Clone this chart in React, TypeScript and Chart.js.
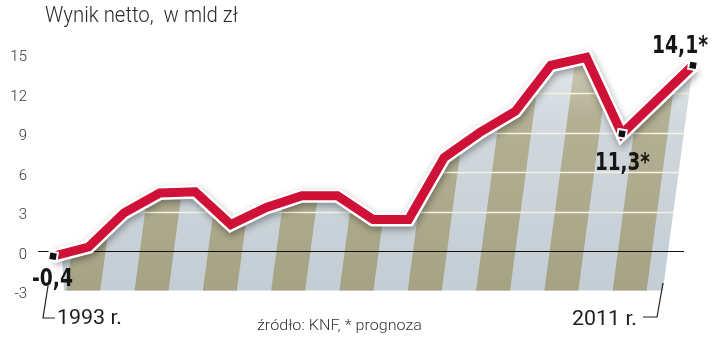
import React, { useEffect, useRef } from 'react';
import { Chart, registerables } from 'chart.js';

Chart.register(...registerables);

const years = ['1993','1994','1995','1996','1997','1998','1999','2000','2001','2002','2003','2004','2005','2006','2007','2008','2009','2010','2011'];
const netProfit = [-0.4, 0.3, 2.9, 4.4, 4.5, 2.0, 3.3, 4.2, 4.2, 2.4, 2.4, 7.1, 9.0, 10.6, 14.1, 14.7, 8.9, 11.5, 14.1];
const yTickValues = [15, 12, 9, 6, 3, 0, -3];
const yTickLabels = ['15', '12', '9', '6', '3', '0', '-3'];
const gridValues = [3, 6, 9, 12];
const markedIndices = [0, 16, 18];
const markedLabels = ['-0,4', '11,3*', '14,1*'];
const titleText = 'Wynik netto,  w mld zł';
const sourceText = 'źródło: KNF, * prognoza';
const firstYearLabel = '1993 r.';
const lastYearLabel = '2011 r.';

const Y_MIN = -3;
const Y_MAX = 15;
const SLANT = 0.134;
const BOLD_FONT = '"DejaVu Sans Condensed", "Liberation Sans Narrow", "DejaVu Sans", sans-serif';
const LIGHT_FONT = 'Roboto, "Liberation Sans", sans-serif';

function fitText(ctx: CanvasRenderingContext2D, text: string, x: number, y: number, width: number, font: string, color: string, align: 'left' | 'center' | 'right' = 'left') {
  ctx.save();
  ctx.font = font;
  ctx.fillStyle = color;
  ctx.textBaseline = 'alphabetic';
  ctx.textAlign = 'left';
  const m = ctx.measureText(text).width;
  const s = width / m;
  const left = align === 'left' ? x : align === 'center' ? x - width / 2 : x - width;
  ctx.translate(left, y);
  ctx.scale(s, 1);
  ctx.fillText(text, 0, 0);
  ctx.restore();
}

const decorPlugin = {
  id: 'decor',
  beforeDatasetsDraw(chart: any) {
    const { ctx, scales } = chart;
    const x = scales.x;
    const y = scales.y;
    const yB = y.getPixelForValue(Y_MIN);
    const pts = netProfit.map((v, i) => ({ x: x.getPixelForValue(i), y: y.getPixelForValue(v) }));
    const last = pts[pts.length - 1];
    ctx.save();
    ctx.beginPath();
    ctx.moveTo(pts[0].x + 11, yB);
    ctx.lineTo(pts[0].x + 9, pts[0].y);
    for (let i = 1; i < pts.length; i++) ctx.lineTo(pts[i].x, pts[i].y);
    ctx.lineTo(last.x - SLANT * (yB - last.y), yB);
    ctx.closePath();
    ctx.clip();
    const yT = y.getPixelForValue(Y_MAX) - 10;
    const gL = ctx.createLinearGradient(0, yT, 0, yB);
    gL.addColorStop(0, '#e4e9ec');
    gL.addColorStop(0.35, '#d0d8dd');
    gL.addColorStop(1, '#c3cdd4');
    ctx.fillStyle = gL;
    ctx.fillRect(0, yT, chart.width, yB - yT + 2);
    const gO = ctx.createLinearGradient(0, yT, 0, yB);
    gO.addColorStop(0, '#d6d4c2');
    gO.addColorStop(0.3, '#b3b094');
    gO.addColorStop(1, '#a6a385');
    ctx.fillStyle = gO;
    const period = 68.3;
    const w = 34;
    const h = yB + 2 - yT;
    for (let k = -3; k < 14; k++) {
      const xb = pts[0].x + 13 + k * period;
      ctx.beginPath();
      ctx.moveTo(xb, yB + 2);
      ctx.lineTo(xb + w, yB + 2);
      ctx.lineTo(xb + w + SLANT * h, yT);
      ctx.lineTo(xb + SLANT * h, yT);
      ctx.closePath();
      ctx.fill();
    }
    ctx.strokeStyle = '#f5f2de';
    ctx.lineWidth = 1.5;
    gridValues.forEach((v) => {
      const py = Math.round(y.getPixelForValue(v)) + 0.5;
      ctx.beginPath();
      ctx.moveTo(0, py);
      ctx.lineTo(chart.width, py);
      ctx.stroke();
    });
    ctx.restore();

    ctx.save();
    ctx.strokeStyle = '#111';
    ctx.lineWidth = 1;
    const zy = Math.round(y.getPixelForValue(0)) + 0.5;
    ctx.beginPath();
    ctx.moveTo(pts[0].x - 15, zy);
    ctx.lineTo(last.x - 9, zy);
    ctx.stroke();
    ctx.restore();
  },
  beforeDatasetDraw(chart: any, args: any) {
    if (args.index === 0) {
      const ctx = chart.ctx;
      ctx.save();
      ctx.shadowColor = 'rgba(0,0,0,0.35)';
      ctx.shadowBlur = 7;
      ctx.shadowOffsetX = 1;
      ctx.shadowOffsetY = 3;
    }
  },
  afterDatasetDraw(chart: any, args: any) {
    if (args.index === 0) chart.ctx.restore();
  },
  afterDraw(chart: any) {
    const { ctx, scales } = chart;
    const x = scales.x;
    const y = scales.y;
    const yB = y.getPixelForValue(Y_MIN);
    const x0 = x.getPixelForValue(0);
    const xN = x.getPixelForValue(netProfit.length - 1);

    fitText(ctx, titleText, 45, 22, 193, `300 22px ${LIGHT_FONT}`, '#2b2b2b');

    ctx.save();
    ctx.font = `300 15px ${LIGHT_FONT}`;
    ctx.fillStyle = '#333';
    ctx.textAlign = 'right';
    ctx.textBaseline = 'middle';
    yTickValues.forEach((v, i) => {
      ctx.fillText(yTickLabels[i], 27, y.getPixelForValue(v) + 4);
    });
    ctx.restore();

    markedIndices.forEach((idx, j) => {
      const px = x.getPixelForValue(idx);
      const py = y.getPixelForValue(netProfit[idx]);
      const txt = markedLabels[j];
      if (j === 0) fitText(ctx, txt, px - 0.5, py + 30, 41, `bold 24px ${BOLD_FONT}`, '#161616', 'center');
      else if (j === 1) fitText(ctx, txt, px + 0.5, py + 36, 55, `bold 25px ${BOLD_FONT}`, '#161616', 'center');
      else fitText(ctx, txt, px - 13, py - 12, 56, `bold 25px ${BOLD_FONT}`, '#161616', 'center');
    });

    fitText(ctx, firstYearLabel, x0 + 4, yB + 33.5, 65, `400 21px ${LIGHT_FONT}`, '#1d1d1d');
    fitText(ctx, lastYearLabel, xN - 121, yB + 34.5, 65, `400 21px ${LIGHT_FONT}`, '#1d1d1d');
    ctx.save();
    ctx.strokeStyle = '#222';
    ctx.lineWidth = 1.2;
    ctx.beginPath();
    ctx.moveTo(x0 - 5, yB - 4.5);
    ctx.lineTo(x0 - 10, yB + 27.5);
    ctx.lineTo(x0 + 2, yB + 27.5);
    ctx.stroke();
    ctx.beginPath();
    ctx.moveTo(xN - 50, yB + 26.5);
    ctx.lineTo(xN - 36, yB + 26.5);
    ctx.lineTo(xN - 30, yB - 7.5);
    ctx.stroke();
    ctx.restore();

    fitText(ctx, sourceText, 257, 330, 165, `300 15px ${LIGHT_FONT}`, '#333');
  },
};

export default function App() {
  const canvasRef = useRef<HTMLCanvasElement | null>(null);

  useEffect(() => {
    const canvas = canvasRef.current;
    if (!canvas) return;
    const markerData = netProfit.map((v, i) => (markedIndices.includes(i) ? v : null));
    const chart = new Chart(canvas, {
      type: 'line',
      data: {
        labels: years,
        datasets: [
          {
            data: netProfit,
            borderColor: '#ffffff',
            borderWidth: 14,
            borderJoinStyle: 'miter',
            borderCapStyle: 'butt',
            pointRadius: 0,
            tension: 0,
            clip: false,
            order: 3,
          } as any,
          {
            data: netProfit,
            borderColor: '#cf1137',
            borderWidth: 9,
            borderJoinStyle: 'miter',
            borderCapStyle: 'butt',
            pointRadius: 0,
            tension: 0,
            clip: false,
            order: 2,
          } as any,
          {
            data: markerData,
            showLine: false,
            pointStyle: 'rect',
            pointRadius: 6,
            pointRotation: 10,
            pointBackgroundColor: '#111111',
            pointBorderColor: '#ffffff',
            pointBorderWidth: 2,
            clip: false,
            order: 1,
          } as any,
        ],
      },
      options: {
        responsive: false,
        animation: false,
        devicePixelRatio: 1,
        layout: { padding: { top: 53.5, bottom: 48.5, left: 53, right: 27 } },
        scales: {
          x: { type: 'category', display: false, offset: false },
          y: { display: false, min: Y_MIN, max: Y_MAX },
        },
        plugins: {
          legend: { display: false },
          tooltip: { enabled: false },
        },
      },
      plugins: [decorPlugin],
    } as any);
    return () => chart.destroy();
  }, []);

  return (
    <canvas
      ref={canvasRef}
      width={720}
      height={339}
      style={{ position: 'fixed', left: 0, top: 0, width: 720, height: 339, background: '#fff' }}
    />
  );
}
